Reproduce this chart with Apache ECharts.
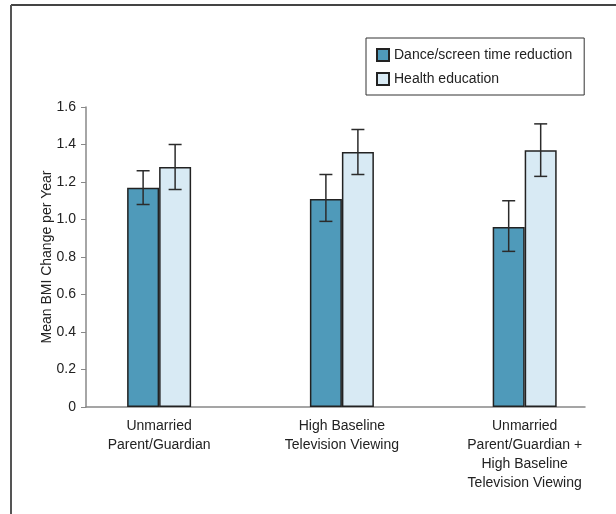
<!DOCTYPE html>
<html>
<head>
<meta charset="utf-8">
<script src="https://cdn.jsdelivr.net/npm/echarts@6/dist/echarts.min.js"></script>
<style>
  html, body { margin: 0; padding: 0; background: #fff; }
  #chart { width: 616px; height: 514px; }
</style>
</head>
<body>
<div id="chart"></div>
<script>
// Mean BMI change per year by subgroup and intervention arm
const categories = [
  'Unmarried\nParent/Guardian',
  'High Baseline\nTelevision Viewing',
  'Unmarried\nParent/Guardian +\nHigh Baseline\nTelevision Viewing'
];
const seriesNames = ['Dance/screen time reduction', 'Health education'];
const danceMean = [1.17, 1.11, 0.96];
const danceLow = [1.08, 0.99, 0.83];
const danceHigh = [1.26, 1.24, 1.10];
const healthMean = [1.28, 1.36, 1.37];
const healthLow = [1.16, 1.24, 1.23];
const healthHigh = [1.40, 1.48, 1.51];
const yTicks = [0, 0.2, 0.4, 0.6, 0.8, 1.0, 1.2, 1.4, 1.6];

const FONT = '"Liberation Sans Narrow", "Liberation Sans", Arial, sans-serif';
const BAR_W = 32;
const colors = ['#4f9aba', '#d8eaf4'];

function barData(values) {
  return values.map((v, i) => [i, v]);
}
function errData(low, high) {
  return low.map((l, i) => [i, l, high[i]]);
}
function errorSeries(name, low, high, shift) {
  return {
    name: name + ' CI',
    type: 'custom',
    data: errData(low, high),
    z: 5,
    silent: true,
    renderItem: function (params, api) {
      const x = api.value(0);
      const pLow = api.coord([x, api.value(1)]);
      const pHigh = api.coord([x, api.value(2)]);
      const cx = pLow[0] + shift;
      const cap = 6.5;
      const style = { stroke: '#2b2b2b', lineWidth: 1.5, fill: null };
      return {
        type: 'group',
        children: [
          { type: 'line', shape: { x1: cx, y1: pLow[1], x2: cx, y2: pHigh[1] }, style: style },
          { type: 'line', shape: { x1: cx - cap, y1: pHigh[1], x2: cx + cap, y2: pHigh[1] }, style: style },
          { type: 'line', shape: { x1: cx - cap, y1: pLow[1], x2: cx + cap, y2: pLow[1] }, style: style }
        ]
      };
    }
  };
}

const chart = echarts.init(document.getElementById('chart'), null, { renderer: 'canvas' });
chart.setOption({
  backgroundColor: '#fff',
  animation: false,
  textStyle: { fontFamily: FONT },
  grid: { left: 86, right: 31, top: 107, bottom: 107 },
  legend: {
    data: seriesNames,
    orient: 'vertical',
    left: 366,
    top: 38,
    padding: [10, 12, 9, 10],
    borderColor: '#333',
    borderWidth: 1,
    icon: 'rect',
    itemWidth: 12,
    itemHeight: 12,
    itemGap: 10,
    selectedMode: false,
    textStyle: { fontFamily: FONT, fontSize: 14, color: '#222' }
  },
  xAxis: {
    type: 'value',
    min: -0.4,
    max: 2.33,
    splitLine: { show: false },
    axisTick: { show: false },
    axisLine: { show: true, onZero: false, lineStyle: { color: '#888', width: 1.5 } },
    axisLabel: {
      customValues: [0, 1, 2],
      formatter: function (v) { return categories[Math.round(v)]; },
      fontFamily: FONT,
      fontSize: 14,
      color: '#222',
      lineHeight: 19,
      margin: 10
    }
  },
  yAxis: {
    type: 'value',
    min: 0,
    max: 1.6,
    interval: 0.2,
    name: 'Mean BMI Change per Year',
    nameLocation: 'middle',
    nameGap: 32,
    nameMoveOverlap: false,
    nameTextStyle: { fontFamily: FONT, fontSize: 14, color: '#222' },
    splitLine: { show: false },
    axisLine: { show: true, onZero: false, lineStyle: { color: '#888', width: 1.5 } },
    axisTick: { show: true, length: 5, lineStyle: { color: '#888' } },
    axisLabel: {
      fontFamily: FONT,
      fontSize: 14,
      color: '#222',
      margin: 10,
      formatter: function (v) { return v === 0 ? '0' : v.toFixed(1); }
    }
  },
  series: [
    {
      name: seriesNames[0],
      type: 'bar',
      data: barData(danceMean),
      barWidth: BAR_W,
      barGap: '0%',
      itemStyle: { color: colors[0], borderColor: '#222', borderWidth: 1.5 }
    },
    {
      name: seriesNames[1],
      type: 'bar',
      data: barData(healthMean),
      barWidth: BAR_W,
      barGap: '0%',
      itemStyle: { color: colors[1], borderColor: '#222', borderWidth: 1.5 }
    },
    errorSeries(seriesNames[0], danceLow, danceHigh, -BAR_W / 2),
    errorSeries(seriesNames[1], healthLow, healthHigh, BAR_W / 2)
  ],
  graphic: [
    { type: 'line', shape: { x1: 11, y1: 5, x2: 616, y2: 5 }, style: { stroke: '#444', lineWidth: 2 } },
    { type: 'line', shape: { x1: 11, y1: 5, x2: 11, y2: 514 }, style: { stroke: '#555', lineWidth: 2 } }
  ]
});
</script>
</body>
</html>
